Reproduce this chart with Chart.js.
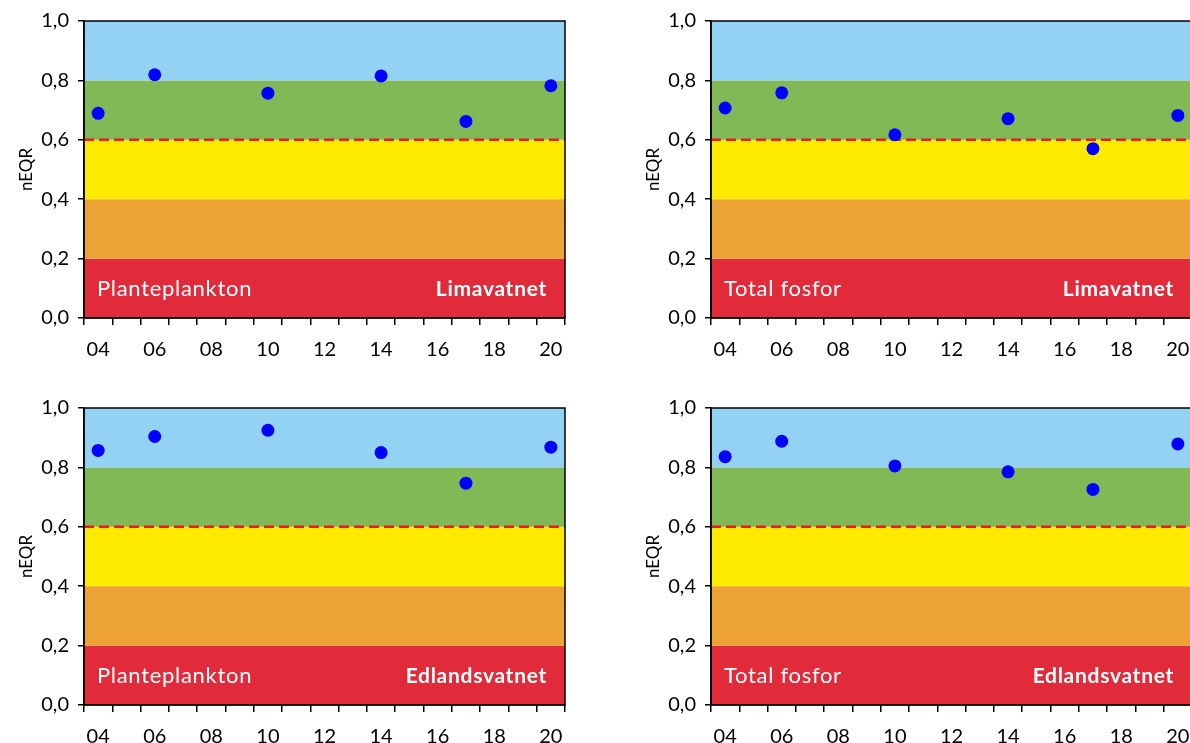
<!DOCTYPE html>
<html>
<head>
<meta charset="utf-8">
<script src="https://cdn.jsdelivr.net/npm/chart.js@4"></script>
<style>
  html, body { margin: 0; padding: 0; background: #fff; overflow: hidden; width: 1190px; height: 743px; }
  .panel { position: absolute; width: 580px; height: 370px; }
</style>
</head>
<body>
<div class="panel" style="left:0;top:0"><canvas id="c1" width="580" height="370"></canvas></div>
<div class="panel" style="left:627px;top:0"><canvas id="c2" width="580" height="370"></canvas></div>
<div class="panel" style="left:0;top:387px"><canvas id="c3" width="580" height="370"></canvas></div>
<div class="panel" style="left:627px;top:387px"><canvas id="c4" width="580" height="370"></canvas></div>
<script>
/* categorias del eje x (años) */
const yearLabels = ['04','05','06','07','08','09','10','11','12','13','14','15','16','17','18','19','20'];
const sampleYears = ['04', '06', '10', '14', '17', '20'];

/* valores nEQR */
const plantLima = [0.689, 0.819, 0.757, 0.815, 0.662, 0.782];
const fosforLima = [0.707, 0.758, 0.617, 0.671, 0.570, 0.682];
const plantEdl = [0.857, 0.904, 0.925, 0.850, 0.747, 0.868];
const fosforEdl = [0.836, 0.888, 0.805, 0.785, 0.726, 0.879];

/* clases de estado */
const classLimits = [0, 0.2, 0.4, 0.6, 0.8, 1.0];
const classColors = ['#e12b3a', '#eca235', '#fcea00', '#81b957', '#93d2f3'];
const goodLimit = 0.6;

const FONT = 'Lato, "Open Sans", sans-serif';

const bandsPlugin = {
    id: 'bands',
    beforeDraw(chart) {
        const ctx = chart.ctx;
        const a = chart.chartArea;
        const y = chart.scales.y;
        ctx.save();
        for (let i = 0; i < classColors.length; i++) {
            const top = y.getPixelForValue(classLimits[i + 1]);
            const bot = y.getPixelForValue(classLimits[i]);
            ctx.fillStyle = classColors[i];
            ctx.fillRect(a.left, top, a.right - a.left, bot - top);
        }
        ctx.restore();
    },
    beforeDatasetsDraw(chart, args, opts) {
        const ctx = chart.ctx;
        const a = chart.chartArea;
        const y = chart.scales.y;
        ctx.save();
        // linea discontinua
        const ly = y.getPixelForValue(goodLimit);
        ctx.strokeStyle = '#ee1c1c';
        ctx.lineWidth = 2.5;
        ctx.setLineDash([10, 5]);
        ctx.beginPath();
        ctx.moveTo(a.left, ly);
        ctx.lineTo(a.right, ly);
        ctx.stroke();
        ctx.setLineDash([]);
        // marco
        ctx.strokeStyle = '#000';
        ctx.lineWidth = 1.5;
        ctx.strokeRect(a.left, a.top, a.right - a.left, a.bottom - a.top);
        // textos
        const ty = y.getPixelForValue(0.1);
        ctx.fillStyle = '#fff';
        ctx.textBaseline = 'middle';
        ctx.letterSpacing = '0.7px';
        ctx.font = '22px ' + FONT;
        ctx.textAlign = 'left';
        ctx.fillText(opts.left, a.left + 13, ty + 1);
        ctx.font = 'bold 21px ' + FONT;
        ctx.textAlign = 'right';
        ctx.fillText(opts.right, a.right - 18, ty + 1);
        ctx.restore();
    }
};

const makeChart = (id, values, leftText, rightText) => {
    return new Chart(document.getElementById(id), {
        type: 'line',
        data: {
            labels: yearLabels,
            datasets: [{
                data: sampleYears.map((yr, i) => ({ x: yr, y: values[i] })),
                showLine: false,
                pointRadius: 6.5,
                pointHoverRadius: 6.5,
                pointBackgroundColor: '#0000ff',
                pointBorderColor: '#0000ff',
                pointBorderWidth: 0
            }]
        },
        options: {
            responsive: false,
            animation: false,
            events: [],
            layout: { padding: { top: 20, right: 15, left: 0, bottom: 0 } },
            plugins: {
                legend: { display: false },
                tooltip: { enabled: false },
                bands: { left: leftText, right: rightText }
            },
            scales: {
                x: {
                    type: 'category',
                    offset: true,
                    afterFit: (s) => { s.height = 52; },
                    grid: { offset: true, drawOnChartArea: false, drawTicks: true, tickLength: 7, color: '#000', lineWidth: 1.5 },
                    border: { color: '#000', width: 1.5 },
                    ticks: {
                        autoSkip: false,
                        maxRotation: 0,
                        color: '#000',
                        padding: 13,
                        font: { family: FONT, size: 20 },
                        callback: (v, i) => (i % 2 === 0 ? yearLabels[i] : '')
                    }
                },
                y: {
                    min: 0,
                    max: 1,
                    afterFit: (s) => { s.width = 84; },
                    grid: { drawOnChartArea: false, drawTicks: true, tickLength: 6, color: '#000', lineWidth: 1.5 },
                    border: { color: '#000', width: 1.5 },
                    ticks: {
                        stepSize: 0.2,
                        color: '#000',
                        padding: 9,
                        font: { family: FONT, size: 20 },
                        callback: (v) => v.toFixed(1).replace('.', ',')
                    },
                    title: {
                        display: true,
                        text: 'nEQR',
                        color: '#000',
                        font: { family: FONT, size: 17 },
                        padding: { top: 16, bottom: 0 }
                    }
                }
            }
        },
        plugins: [bandsPlugin]
    });
};

makeChart('c1', plantLima, 'Planteplankton', 'Limavatnet');
makeChart('c2', fosforLima, 'Total fosfor', 'Limavatnet');
makeChart('c3', plantEdl, 'Planteplankton', 'Edlandsvatnet');
makeChart('c4', fosforEdl, 'Total fosfor', 'Edlandsvatnet');
</script>
</body>
</html>
